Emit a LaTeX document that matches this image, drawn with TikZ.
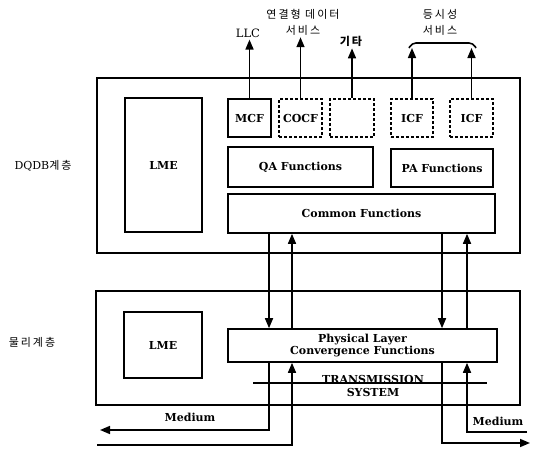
\documentclass[tikz,border=0pt]{standalone}
\usepackage{fontspec}
\setmainfont{DejaVu Serif}
\newfontfamily\kr[LetterSpace=18]{Noto Sans CJK KR}
\usetikzlibrary{arrows.meta}
\tikzset{
  layer/.style={draw, line width=1.6pt, inner sep=0pt},
  funcbox/.style={draw, line width=1.6pt, inner sep=0pt, font=\bfseries\fontsize{11}{12}\selectfont, align=center},
  dashbox/.style={funcbox, dash pattern=on 3pt off 2pt},
  lbl/.style={font=\kr\fontsize{11}{16}\selectfont, align=center, inner sep=2pt},
  sig/.style={line width=1.6pt, -{Triangle[width=8pt,length=10pt]}}
}
\begin{document}
\begin{tikzpicture}[x=1pt, y=-1pt]
  \useasboundingbox (0,0) rectangle (538,448);

  % Layer boxes
  \node[layer, minimum width=423pt, minimum height=175pt] (dqdb) at (308.5,165.5) {};
  \node[layer, minimum width=424pt, minimum height=114pt] (phy) at (308,348) {};

  % DQDB layer functions
  \node[funcbox, minimum width=77pt, minimum height=134pt] (lmea) at (163.5,165) {LME};
  \node[funcbox, minimum width=43pt, minimum height=38pt] (mcf) at (249.5,118) {MCF};
  \node[dashbox, minimum width=43pt, minimum height=38pt] (cocf) at (300.5,118) {COCF};
  \node[dashbox, minimum width=44pt, minimum height=38pt] (other) at (352,118) {};
  \node[dashbox, minimum width=42pt, minimum height=38pt] (icfa) at (412,118) {ICF};
  \node[dashbox, minimum width=43pt, minimum height=38pt] (icfb) at (471.5,118) {ICF};
  \node[funcbox, minimum width=145pt, minimum height=40pt] (qa) at (300.5,167) {QA Functions};
  \node[funcbox, minimum width=102pt, minimum height=38pt] (pa) at (442,168) {PA Functions};
  \node[funcbox, minimum width=267pt, minimum height=39pt] (common) at (361.5,213.5) {Common Functions};

  % Physical layer functions
  \node[funcbox, minimum width=78pt, minimum height=66pt] (lmeb) at (163,345) {LME};
  \node[funcbox, minimum width=269pt, minimum height=33pt] (plcf) at (362.5,345.5)
    {Physical Layer\\Convergence Functions};
  \node[font=\bfseries\fontsize{11}{13}\selectfont, align=center] (trans) at (373,386)
    {TRANSMISSION\\SYSTEM};
  \coordinate (tsl) at (253,383);
  \coordinate (tsr) at (487,383);
  \draw[line width=1.4pt] (tsl) -- (tsr);

  % Layer names
  \node[lbl] (ldqdb) at (43,166) {{\rmfamily DQDB}계층};
  \node[lbl] (lphy) at (32,342) {물리계층};

  % Service labels
  \node[font=\fontsize{11.5}{12}\selectfont, inner sep=2pt] (llc) at (248,33) {LLC};
  \node[lbl] (conn) at (303,22) {연결형 데이터\\서비스};
  \node[lbl, font=\kr\bfseries\fontsize{11}{12}\selectfont] (etc) at (351,41) {기타};
  \node[lbl] (iso) at (440,22) {등시성\\서비스};
  \coordinate (brl) at (409,48);
  \coordinate (brr) at (476,48);
  \draw[line width=1.6pt, rounded corners=4pt] (brl) -- ++(3,-5) -- ++(61,0) -- (brr);

  % Upward service arrows
  \draw[sig] (mcf.north) -- (mcf.north |- llc.south);
  \draw[sig] (cocf.north) -- (cocf.north |- conn.south);
  \draw[sig] (other.north) -- (other.north |- etc.south);
  \draw[sig] (icfa.north) -- (icfa.north |- brl);
  \draw[sig] (icfb.north) -- (icfb.north |- brr);

  % Between the layers
  \coordinate (da) at (269,0);
  \coordinate (ua) at (292,0);
  \coordinate (db) at (442,0);
  \coordinate (ub) at (467,0);
  \draw[sig] (common.south -| da) -- (plcf.north -| da);
  \draw[sig] (plcf.north -| ua) -- (common.south -| ua);
  \draw[sig] (common.south -| db) -- (plcf.north -| db);
  \draw[sig] (plcf.north -| ub) -- (common.south -| ub);

  % Medium
  \coordinate (outl) at (100,430);
  \coordinate (inl) at (97,445);
  \coordinate (outr) at (530,443);
  \coordinate (inr) at (527,432);
  \draw[sig] (plcf.south -| da) |- (outl);
  \draw[sig] (inl) -| (plcf.south -| ua);
  \draw[sig] (plcf.south -| db) |- (outr);
  \draw[sig] (inr) -| (plcf.south -| ub);
  \node[font=\bfseries\fontsize{11}{12}\selectfont] (medl) at (190,417) {Medium};
  \node[font=\bfseries\fontsize{11}{12}\selectfont] (medr) at (498,421) {Medium};

\end{tikzpicture}
\end{document}
